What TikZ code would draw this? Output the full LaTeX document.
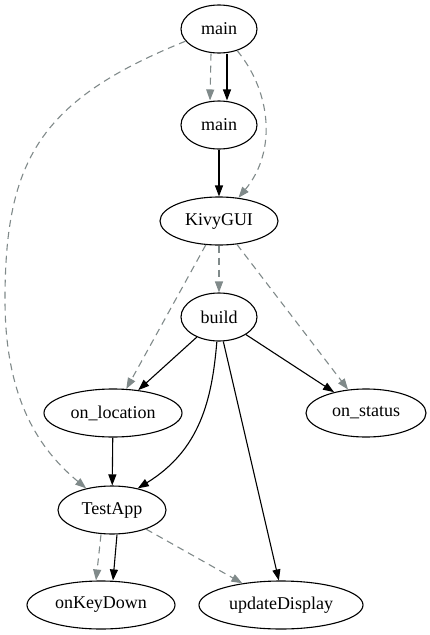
\documentclass[tikz,border=0pt]{standalone}
\usepackage{fontspec}
\setmainfont{Liberation Serif}
\usetikzlibrary{arrows.meta,shapes.geometric}
\definecolor{depgray}{RGB}{128,138,138}
\tikzset{
    fn/.style={draw, ellipse, line width=1.1pt, inner sep=0pt, minimum height=48pt,
        font=\fontsize{18}{20}\selectfont},
    call/.style={->, line width=1.1pt},
    dep/.style={->, line width=1.1pt, depgray, dash pattern=on 7pt off 5pt}
}
\begin{document}
\begin{tikzpicture}[>={Triangle[length=11pt,width=8pt]}, x=1pt, y=-1pt]
    \useasboundingbox (0,0) rectangle (430,635);
    % 1. Cac nut
    \node[fn, minimum width=76pt]  (m1)  at (219,29)  {main};
    \node[fn, minimum width=76pt]  (m2)  at (219,125) {main};
    \node[fn, minimum width=118pt] (kivy) at (219,221) {KivyGUI};
    \node[fn, minimum width=76pt]  (bld) at (219,317) {build};
    \node[fn, minimum width=138pt] (loc) at (113,413) {on\_location};
    \node[fn, minimum width=120pt] (sts) at (366,413) {on\_status};
    \node[fn, minimum width=108pt] (app) at (112,510) {TestApp};
    \node[fn, minimum width=148pt] (okd) at (101,605) {onKeyDown};
    \node[fn, minimum width=164pt] (upd) at (281,605) {updateDisplay};

    % 2. Cac loi goi
    \draw[call] ([xshift=8pt]m1.south) -- ([xshift=8pt]m2.north);
    \draw[call] (m2) -- (kivy);
    \draw[call] (bld) -- (loc);
    \draw[call] (bld) -- (sts);
    \draw[call] (bld.-95) .. controls (212,400) and (200,450) .. (app.40);
    \draw[call] (bld.-80) -- (upd.95);
    \draw[call] (loc) -- (app);
    \draw[call] ([xshift=5pt]app.south) -- ([xshift=12pt]okd.north);

    % 3. Phu thuoc (net dut)
    \draw[dep] ([xshift=-8pt]m1.south) -- ([xshift=-9pt]m2.north);
    \draw[dep] (m1.-50) .. controls (270,90) and (278,150) .. (kivy.50);
    \draw[dep] (m1.200) .. controls (40,100) and (5,160) .. (5,300)
        .. controls (5,400) and (40,450) .. (app.140);
    \draw[dep] (kivy) -- (bld);
    \draw[dep] (kivy) -- (loc);
    \draw[dep] (kivy) -- (sts);
    \draw[dep] ([xshift=-11pt]app.south) -- ([xshift=-5pt]okd.north);
    \draw[dep] (app) -- (upd);
\end{tikzpicture}
\end{document}
